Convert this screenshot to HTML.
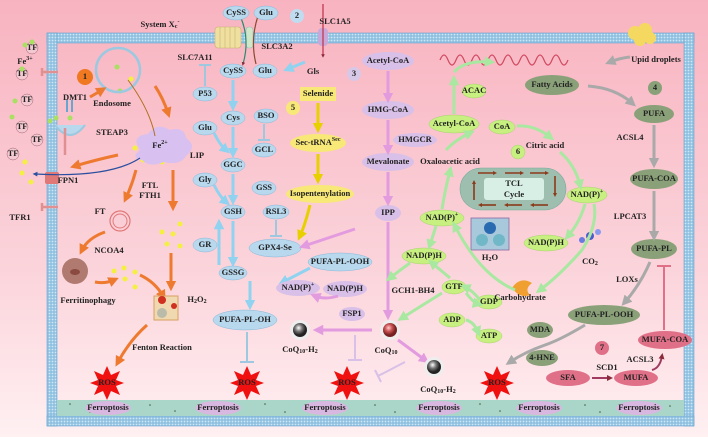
<!DOCTYPE html>
<html><head><meta charset="utf-8"><style>
body{margin:0;background:#fff}
svg{display:block}
text{font-family:"Liberation Serif",serif;font-weight:bold;font-size:8.5px;fill:#222;text-anchor:middle;dominant-baseline:middle}
</style></head><body>
<svg width="708" height="437" viewBox="0 0 708 437" xmlns="http://www.w3.org/2000/svg">
<defs>
<linearGradient id="bg" x1="0" y1="0" x2="0" y2="1"><stop offset="0" stop-color="#f8b3c0"/><stop offset="0.6" stop-color="#fbd3da"/><stop offset="1" stop-color="#fff0f2"/></linearGradient>
<pattern id="mem" width="3" height="3" patternUnits="userSpaceOnUse"><rect width="3" height="3" fill="#8fc0e0"/><circle cx="1.5" cy="1.5" r="0.9" fill="#cfe6f5"/></pattern>
<marker id="ab" viewBox="0 0 10 10" refX="5" refY="5" markerWidth="3.5" markerHeight="3.5" orient="auto"><path d="M0,0L10,5L0,10z" fill="#8fd3f0"/></marker>
<marker id="ay" viewBox="0 0 10 10" refX="5" refY="5" markerWidth="3.5" markerHeight="3.5" orient="auto"><path d="M0,0L10,5L0,10z" fill="#e8d000"/></marker>
<marker id="ap" viewBox="0 0 10 10" refX="5" refY="5" markerWidth="3.5" markerHeight="3.5" orient="auto"><path d="M0,0L10,5L0,10z" fill="#e39be0"/></marker>
<marker id="ag" viewBox="0 0 10 10" refX="5" refY="5" markerWidth="3.5" markerHeight="3.5" orient="auto"><path d="M0,0L10,5L0,10z" fill="#a8e8a0"/></marker>
<marker id="agr" viewBox="0 0 10 10" refX="5" refY="5" markerWidth="3.5" markerHeight="3.5" orient="auto"><path d="M0,0L10,5L0,10z" fill="#a9a9a9"/></marker>
<marker id="ao" viewBox="0 0 10 10" refX="5" refY="5" markerWidth="3.5" markerHeight="3.5" orient="auto"><path d="M0,0L10,5L0,10z" fill="#ee7a30"/></marker>
<marker id="ar" viewBox="0 0 10 10" refX="5" refY="5" markerWidth="3" markerHeight="3" orient="auto"><path d="M0,0L10,5L0,10z" fill="#8a2a3a"/></marker>
<marker id="an" viewBox="0 0 10 10" refX="5" refY="5" markerWidth="4" markerHeight="4" orient="auto"><path d="M0,0L10,5L0,10z" fill="#2a4fa0"/></marker>
<marker id="abr" viewBox="0 0 10 10" refX="5" refY="5" markerWidth="2.5" markerHeight="2.5" orient="auto"><path d="M0,0L10,5L0,10z" fill="#8b3a1a"/></marker>
</defs>
<rect width="708" height="437" fill="url(#bg)"/>
<!-- membrane -->
<rect x="47" y="33" width="647" height="10" fill="url(#mem)" stroke="#6aa5d0" stroke-width="0.6"/>
<rect x="47" y="33" width="10" height="393" fill="url(#mem)" stroke="#6aa5d0" stroke-width="0.6"/>
<rect x="684" y="33" width="10" height="393" fill="url(#mem)" stroke="#6aa5d0" stroke-width="0.6"/>
<rect x="47" y="416" width="647" height="10" fill="url(#mem)" stroke="#6aa5d0" stroke-width="0.6"/>
<rect x="57" y="400" width="627" height="16" fill="#a9d6c8"/>
<g fill="#4a5a3a">
<circle cx="70" cy="404" r="0.8"/><circle cx="90" cy="412" r="0.8"/><circle cx="150" cy="405" r="0.8"/><circle cx="175" cy="411" r="0.8"/><circle cx="265" cy="404" r="0.8"/><circle cx="285" cy="412" r="0.8"/><circle cx="375" cy="405" r="0.8"/><circle cx="395" cy="412" r="0.8"/><circle cx="480" cy="404" r="0.8"/><circle cx="500" cy="411" r="0.8"/><circle cx="585" cy="405" r="0.8"/><circle cx="600" cy="412" r="0.8"/><circle cx="670" cy="406" r="0.8"/>
</g>
<!-- Ferroptosis -->
<g fill="#d8b8e0">
<ellipse cx="108" cy="408" rx="23" ry="7"/><ellipse cx="218" cy="408" rx="23" ry="7"/><ellipse cx="325" cy="408" rx="23" ry="7"/><ellipse cx="439" cy="408" rx="23" ry="7"/><ellipse cx="539" cy="408" rx="23" ry="7"/><ellipse cx="639" cy="408" rx="23" ry="7"/>
</g>
<text x="108" y="408">Ferroptosis</text><text x="218" y="408">Ferroptosis</text><text x="325" y="408">Ferroptosis</text><text x="439" y="408">Ferroptosis</text><text x="539" y="408">Ferroptosis</text><text x="639" y="408">Ferroptosis</text>
<!-- ROS stars -->
<g fill="#f01010">
<polygon transform="translate(107,383)" points="0,-17 4,-8 13,-12 9,-3 17,0 9,3 13,12 4,8 0,17 -4,8 -13,12 -9,3 -17,0 -9,-3 -13,-12 -4,-8"/>
<polygon transform="translate(247,383)" points="0,-17 4,-8 13,-12 9,-3 17,0 9,3 13,12 4,8 0,17 -4,8 -13,12 -9,3 -17,0 -9,-3 -13,-12 -4,-8"/>
<polygon transform="translate(347,383)" points="0,-17 4,-8 13,-12 9,-3 17,0 9,3 13,12 4,8 0,17 -4,8 -13,12 -9,3 -17,0 -9,-3 -13,-12 -4,-8"/>
<polygon transform="translate(497,383)" points="0,-17 4,-8 13,-12 9,-3 17,0 9,3 13,12 4,8 0,17 -4,8 -13,12 -9,3 -17,0 -9,-3 -13,-12 -4,-8"/>
</g>
<text x="107" y="383">ROS</text><text x="247" y="383">ROS</text><text x="347" y="383">ROS</text><text x="497" y="383">ROS</text>

<!-- Xc- transporter -->
<rect x="215" y="27" width="26" height="21" rx="3" fill="#f0e0a0" stroke="#c8b070" stroke-width="0.6"/>
<g stroke="#c8b070" stroke-width="0.6"><line x1="220" y1="27" x2="220" y2="48"/><line x1="225" y1="27" x2="225" y2="48"/><line x1="230" y1="27" x2="230" y2="48"/><line x1="235" y1="27" x2="235" y2="48"/></g>
<rect x="246" y="27" width="7" height="21" rx="3" fill="#cfe6c8" stroke="#9bb" stroke-width="0.6"/>
<rect x="318" y="28" width="10" height="18" rx="4" fill="#c8a8d8"/>
<text x="160" y="25">System X<tspan font-size="6" dy="2">c</tspan><tspan font-size="6" dy="-5">-</tspan></text>
<path d="M241,18 Q250,40 243,64" stroke="#2a8a6a" stroke-width="1.2" fill="none" marker-end="url(#ar)"/>
<path d="M256,64 Q250,40 258,16" stroke="#8a4a30" stroke-width="1.2" fill="none" marker-end="url(#ar)"/>
<line x1="323" y1="4" x2="323" y2="56" stroke="#c03048" stroke-width="1.2" marker-end="url(#ar)"/>
<text x="335" y="22">SLC1A5</text>
<text x="277" y="47">SLC3A2</text>
<text x="195" y="58">SLC7A11</text>
<circle cx="297" cy="16" r="7" fill="#c0dcf0"/><text x="297" y="16" font-size="10">2</text>
<circle cx="354" cy="74" r="7" fill="#d8c8e8"/><text x="354" y="74" font-size="10">3</text>
<!-- blue ellipses -->
<g fill="#b8d8ee" stroke="#8ab8d8" stroke-width="0.5">
<ellipse cx="236" cy="13" rx="13" ry="7"/><ellipse cx="266" cy="13" rx="12" ry="7"/>
<ellipse cx="233" cy="71" rx="13" ry="7"/><ellipse cx="265" cy="71" rx="12" ry="7"/>
<ellipse cx="205" cy="94" rx="12" ry="7"/>
<ellipse cx="233" cy="118" rx="12" ry="7"/><ellipse cx="266" cy="116" rx="12" ry="7"/>
<ellipse cx="205" cy="128" rx="12" ry="7"/><ellipse cx="264" cy="150" rx="12" ry="7"/>
<ellipse cx="233" cy="165" rx="12" ry="7"/><ellipse cx="205" cy="180" rx="12" ry="7"/>
<ellipse cx="264" cy="188" rx="12" ry="7"/><ellipse cx="233" cy="212" rx="12" ry="7"/>
<ellipse cx="276" cy="212" rx="13" ry="7"/><ellipse cx="205" cy="245" rx="12" ry="7"/>
<ellipse cx="275" cy="248" rx="26" ry="9"/><ellipse cx="233" cy="273" rx="14" ry="7"/>
<ellipse cx="340" cy="262" rx="32" ry="9"/><ellipse cx="245" cy="320" rx="32" ry="10"/>
</g>
<text x="236" y="13">CySS</text><text x="266" y="13">Glu</text><text x="233" y="71">CySS</text><text x="265" y="71">Glu</text>
<text x="205" y="94">P53</text><text x="233" y="118">Cys</text><text x="266" y="116">BSO</text><text x="205" y="128">Glu</text>
<text x="264" y="150">GCL</text><text x="233" y="165">GGC</text><text x="205" y="180">Gly</text><text x="264" y="188">GSS</text>
<text x="233" y="212">GSH</text><text x="276" y="212">RSL3</text><text x="205" y="245">GR</text><text x="275" y="248">GPX4-Se</text>
<text x="233" y="273">GSSG</text><text x="340" y="262">PUFA-PL-OOH</text><text x="245" y="320">PUFA-PL-OH</text>
<text x="313" y="72">Gls</text>
<!-- blue arrows -->
<g stroke="#8fd3f0" stroke-width="3" fill="none" marker-end="url(#ab)">
<line x1="305" y1="62" x2="288" y2="69"/>
<line x1="233" y1="80" x2="233" y2="106"/><line x1="233" y1="127" x2="233" y2="153"/>
<path d="M214,133 Q220,145 226,150"/><line x1="233" y1="174" x2="233" y2="200"/>
<path d="M214,185 Q220,197 226,202"/><line x1="233" y1="221" x2="233" y2="262"/>
<line x1="219" y1="265" x2="219" y2="224"/><line x1="310" y1="268" x2="283" y2="282"/>
<line x1="250" y1="281" x2="250" y2="305"/>
</g>
<g stroke="#9ec8e0" stroke-width="2" fill="none">
<line x1="205" y1="86" x2="205" y2="65"/><line x1="199" y1="65" x2="211" y2="65"/>
<line x1="264" y1="124" x2="264" y2="140"/><line x1="258" y1="140" x2="270" y2="140"/>
<line x1="276" y1="220" x2="276" y2="236"/><line x1="270" y1="236" x2="282" y2="236"/>
<line x1="247" y1="332" x2="247" y2="362"/><line x1="240" y1="362" x2="254" y2="362"/>
</g>
<!-- selenium -->
<rect x="300" y="87" width="36" height="14" fill="#f8e878"/>
<text x="318" y="94">Selenide</text>
<circle cx="293" cy="108" r="7" fill="#f8e878"/><text x="293" y="108" font-size="10">5</text>
<ellipse cx="318" cy="143" rx="28" ry="9" fill="#f8e878"/><text x="318" y="143">Sec-tRNA<tspan font-size="6" dy="-3">Sec</tspan></text>
<ellipse cx="320" cy="194" rx="34" ry="9" fill="#f8e878"/><text x="320" y="194">Isopentenylation</text>
<g stroke="#e8d000" stroke-width="3" fill="none" marker-end="url(#ay)">
<line x1="318" y1="103" x2="318" y2="128"/><line x1="318" y1="154" x2="318" y2="179"/><path d="M310,205 Q305,225 300,236"/>
</g>
<!-- mevalonate -->
<g fill="#d8c0e8"><ellipse cx="388" cy="61" rx="26" ry="9"/><ellipse cx="388" cy="110" rx="26" ry="9"/><ellipse cx="415" cy="140" rx="22" ry="7"/><ellipse cx="388" cy="162" rx="26" ry="9"/><ellipse cx="388" cy="213" rx="13" ry="8"/>
<ellipse cx="298" cy="288" rx="22" ry="8"/><ellipse cx="345" cy="289" rx="22" ry="8"/><ellipse cx="352" cy="314" rx="13" ry="7"/></g>
<text x="388" y="61">Acetyl-CoA</text><text x="388" y="110">HMG-CoA</text><text x="415" y="140">HMGCR</text><text x="388" y="162">Mevalonate</text><text x="388" y="213">IPP</text>
<text x="298" y="288">NAD(P)<tspan font-size="6" dy="-3">+</tspan></text><text x="345" y="289">NAD(P)H</text><text x="352" y="314">FSP1</text>
<g stroke="#e39be0" stroke-width="3" fill="none" marker-end="url(#ap)">
<line x1="388" y1="71" x2="388" y2="98"/><line x1="388" y1="120" x2="388" y2="150"/><line x1="388" y1="172" x2="388" y2="201"/>
<line x1="388" y1="222" x2="388" y2="315"/><line x1="355" y1="229" x2="304" y2="246"/>
<path d="M338,296 Q325,300 315,296"/><line x1="372" y1="330" x2="318" y2="330"/><line x1="398" y1="340" x2="425" y2="360"/>
</g>
<g stroke="#d8c0e8" stroke-width="2" fill="none"><line x1="355" y1="335" x2="355" y2="360"/><line x1="348" y1="360" x2="362" y2="360"/><line x1="405" y1="362" x2="378" y2="376"/><line x1="375" y1="370" x2="381" y2="382"/></g>
<!-- CoQ spheres -->
<defs><radialGradient id="gs" cx="0.4" cy="0.35"><stop offset="0" stop-color="#fff"/><stop offset="0.5" stop-color="#777"/><stop offset="1" stop-color="#222"/></radialGradient>
<radialGradient id="rs" cx="0.4" cy="0.35"><stop offset="0" stop-color="#fcc"/><stop offset="0.5" stop-color="#c55"/><stop offset="1" stop-color="#722"/></radialGradient></defs>
<circle cx="300" cy="330" r="10" fill="#eee"/><circle cx="300" cy="330" r="7" fill="url(#gs)"/><text x="300" y="350">CoQ<tspan font-size="6" dy="2">10</tspan><tspan dy="-2">-H</tspan><tspan font-size="6" dy="2">2</tspan></text>
<circle cx="390" cy="330" r="10" fill="#eee"/><circle cx="390" cy="330" r="7" fill="url(#rs)"/><text x="386" y="351">CoQ<tspan font-size="6" dy="2">10</tspan></text>
<circle cx="434" cy="367" r="10" fill="#eee"/><circle cx="434" cy="367" r="7" fill="url(#gs)"/><text x="438" y="390">CoQ<tspan font-size="6" dy="2">10</tspan><tspan dy="-2">-H</tspan><tspan font-size="6" dy="2">2</tspan></text>
<!-- TCA -->
<path d="M440,60 q4,-10 8,0 q4,10 8,0 q4,-10 8,0 q4,10 8,0 q4,-10 8,0 q4,10 8,0 q4,-10 8,0 q4,10 8,0 q4,-10 8,0 q4,10 8,0 q4,-10 8,0 q4,10 8,0 q4,-10 8,0 q4,10 8,0 q4,-10 8,0 q4,10 8,0" stroke="#d04a60" stroke-width="1.2" fill="none"/>
<g fill="#f5d860"><circle cx="635" cy="33" r="7"/><circle cx="645" cy="30" r="7"/><circle cx="650" cy="38" r="6"/><circle cx="640" cy="40" r="6"/></g>
<text x="656" y="60">Upid droplets</text>
<g fill="#c8f080" stroke="#9c6" stroke-width="0.4">
<ellipse cx="474" cy="91" rx="12" ry="7"/><ellipse cx="454" cy="124" rx="25" ry="9"/><ellipse cx="502" cy="127" rx="13" ry="7"/>
<circle cx="518" cy="152" r="7"/><ellipse cx="587" cy="195" rx="20" ry="8"/><ellipse cx="442" cy="218" rx="22" ry="8"/>
<ellipse cx="546" cy="243" rx="22" ry="8"/><ellipse cx="424" cy="256" rx="22" ry="8"/><ellipse cx="454" cy="287" rx="12" ry="7"/>
<ellipse cx="489" cy="302" rx="13" ry="7"/><ellipse cx="452" cy="320" rx="13" ry="7"/><ellipse cx="489" cy="336" rx="13" ry="7"/>
</g>
<text x="474" y="91">ACAC</text><text x="454" y="124">Acetyl-CoA</text><text x="502" y="127">CoA</text><text x="518" y="152" font-size="10">6</text>
<text x="587" y="195">NAD(P)<tspan font-size="6" dy="-3">+</tspan></text><text x="442" y="218">NAD(P)<tspan font-size="6" dy="-3">+</tspan></text>
<text x="546" y="243">NAD(P)H</text><text x="424" y="256">NAD(P)H</text><text x="454" y="287">GTP</text><text x="489" y="302">GDP</text><text x="452" y="320">ADP</text><text x="489" y="336">ATP</text>
<text x="450" y="162">Oxaloacetic acid</text><text x="545" y="146">Citric acid</text><text x="413" y="291">GCH1-BH4</text>
<text x="520" y="298">Carbohydrate</text><text x="490" y="258">H<tspan font-size="6" dy="2">2</tspan><tspan dy="-2">O</tspan></text>
<text x="590" y="262">CO<tspan font-size="6" dy="2">2</tspan></text>
<rect x="460" y="168" width="106" height="42" rx="21" fill="#9ebfb0" stroke="#7a9" stroke-width="0.6"/>
<rect x="484" y="178" width="60" height="22" rx="3" fill="#d8efe6"/>
<text x="514" y="184">TCL</text><text x="514" y="195">Cycle</text>
<g stroke="#8b3a1a" stroke-width="1.6" marker-end="url(#abr)">
<line x1="478" y1="173" x2="495" y2="173"/><line x1="505" y1="173" x2="522" y2="173"/><line x1="530" y1="173" x2="547" y2="173"/>
<line x1="555" y1="176" x2="555" y2="195"/><line x1="548" y1="205" x2="532" y2="205"/><line x1="522" y1="205" x2="506" y2="205"/><line x1="496" y1="205" x2="480" y2="205"/><line x1="474" y1="200" x2="474" y2="182"/>
</g>
<rect x="471" y="218" width="38" height="32" fill="#a8c8dc" stroke="#8a6aa0" stroke-width="0.8"/>
<circle cx="490" cy="228" r="6" fill="#2a6ab0"/><circle cx="482" cy="240" r="6" fill="#70b8c8"/><circle cx="499" cy="240" r="6" fill="#70b8c8"/>
<circle cx="582" cy="240" r="3" fill="#6a7ae0"/><circle cx="590" cy="236" r="4" fill="#4a5ad0"/><circle cx="598" cy="232" r="3" fill="#8a9af0"/>
<path d="M512,288 q8,-12 20,-5 q-8,6 -2,12 q-10,4 -18,-7z" fill="#f0a030"/>
<g stroke="#a8e8a0" stroke-width="3" fill="none" marker-end="url(#ag)">
<line x1="454" y1="114" x2="454" y2="80"/><path d="M454,72 Q465,60 490,62"/><path d="M446,150 Q455,140 470,133"/>
<path d="M517,126 Q535,125 550,137"/><path d="M560,152 Q575,165 580,185"/><path d="M585,204 Q580,222 568,236"/>
<path d="M594,204 Q598,225 582,250 Q560,275 540,290"/><path d="M442,209 Q445,190 450,171"/>
<path d="M436,226 L430,245"/><path d="M450,278 L432,263"/><path d="M515,290 Q480,275 455,226"/>
<path d="M480,300 Q472,290 465,287"/><path d="M466,293 Q474,303 478,304"/><path d="M466,320 Q474,322 478,332"/>
<path d="M410,263 Q400,270 390,278"/><path d="M442,293 L402,318"/>
</g>
<!-- lipid right -->
<g fill="#8aa078"><ellipse cx="552" cy="85" rx="27" ry="10"/><circle cx="655" cy="88" r="7"/><ellipse cx="654" cy="114" rx="20" ry="9"/><ellipse cx="654" cy="179" rx="24" ry="10"/><ellipse cx="654" cy="249" rx="23" ry="10"/><ellipse cx="604" cy="315" rx="36" ry="10"/><ellipse cx="540" cy="330" rx="13" ry="8"/><ellipse cx="542" cy="358" rx="16" ry="8"/></g>
<text x="552" y="85">Fatty Acids</text><text x="655" y="88" font-size="10">4</text><text x="654" y="114">PUFA</text><text x="654" y="179">PUFA-COA</text><text x="654" y="249">PUFA-PL</text><text x="604" y="315">PUFA-PL-OOH</text><text x="540" y="330">MDA</text><text x="542" y="358">4-HNE</text>
<text x="630" y="138">ACSL4</text><text x="630" y="217">LPCAT3</text><text x="627" y="280">LOXs</text>
<g stroke="#a9a9a9" stroke-width="3" fill="none" marker-end="url(#agr)">
<path d="M630,57 Q620,58 610,62"/><path d="M588,86 Q615,88 632,103"/><line x1="654" y1="125" x2="654" y2="163"/><line x1="654" y1="191" x2="654" y2="236"/>
<path d="M650,262 Q640,285 625,302"/><path d="M585,325 Q560,340 545,345 Q525,352 510,362"/>
</g>
<g fill="#e07088"><ellipse cx="665" cy="340" rx="27" ry="9"/><circle cx="602" cy="348" r="7"/><ellipse cx="568" cy="378" rx="22" ry="8"/><ellipse cx="636" cy="378" rx="22" ry="8"/></g>
<text x="665" y="340">MUFA-COA</text><text x="602" y="348" font-size="10">7</text><text x="568" y="378">SFA</text><text x="636" y="378">MUFA</text><text x="607" y="368">SCD1</text><text x="640" y="360">ACSL3</text>
<line x1="592" y1="378" x2="610" y2="378" stroke="#a03a60" stroke-width="2" marker-end="url(#ar)"/>
<path d="M652,370 Q660,368 662,356" stroke="#a03a60" stroke-width="2" fill="none" marker-end="url(#ar)"/>
<g stroke="#e07088" stroke-width="2"><line x1="664" y1="330" x2="664" y2="266"/><line x1="657" y1="266" x2="671" y2="266"/></g>
<!-- iron left -->
<circle cx="85" cy="77" r="8" fill="#f07820"/><text x="85" y="77" font-size="10">1</text>
<text x="25" y="62">Fe<tspan font-size="6" dy="-3">3+</tspan></text>
<g fill="#f4c8d0" stroke="#a06070" stroke-width="0.5">
<circle cx="32" cy="48" r="6"/><circle cx="22" cy="74" r="6"/><circle cx="27" cy="100" r="6"/><circle cx="22" cy="127" r="6"/><circle cx="37" cy="140" r="6"/><circle cx="13" cy="154" r="6"/>
</g>
<g font-size="7"><text x="32" y="48" font-size="7">TF</text><text x="22" y="74" font-size="7">TF</text><text x="27" y="100" font-size="7">TF</text><text x="22" y="127" font-size="7">TF</text><text x="37" y="140" font-size="7">TF</text><text x="13" y="154" font-size="7">TF</text></g>
<g fill="#a8e060"><circle cx="25" cy="45" r="2.5"/><circle cx="32" cy="42" r="2.5"/><circle cx="22" cy="69" r="2.5"/><circle cx="15" cy="101" r="2.5"/><circle cx="12" cy="117" r="2.5"/><circle cx="50" cy="121" r="2.5"/><circle cx="56" cy="118" r="2.5"/><circle cx="70" cy="118" r="2.5"/><circle cx="117" cy="67" r="2.5"/><circle cx="120" cy="91" r="2.5"/></g>
<g fill="#f4f040"><circle cx="25" cy="162" r="2.5"/><circle cx="22" cy="173" r="2.5"/><circle cx="31" cy="182" r="2.5"/><circle cx="131" cy="79" r="2.5"/>
<circle cx="145" cy="140" r="2.5"/><circle cx="168" cy="140" r="2.5"/><circle cx="135" cy="148" r="2.5"/><circle cx="143" cy="160" r="2.5"/><circle cx="162" cy="162" r="2.5"/>
<circle cx="162" cy="232" r="2.5"/><circle cx="173" cy="234" r="2.5"/><circle cx="180" cy="224" r="2.5"/><circle cx="167" cy="244" r="2.5"/><circle cx="180" cy="246" r="2.5"/>
<circle cx="114" cy="271" r="2.5"/><circle cx="124" cy="268" r="2.5"/><circle cx="135" cy="272" r="2.5"/><circle cx="125" cy="279" r="2.5"/><circle cx="135" cy="287" r="2.5"/></g>
<circle cx="118" cy="70" r="22" fill="none" stroke="#9cc8e0" stroke-width="2.5"/>
<text x="112" y="104">Endosome</text><text x="75" y="98">DMT1</text><text x="112" y="133">STEAP3</text>
<path d="M55,125 Q70,145 85,125" fill="#b8d8ee" stroke="#9cc8e0" stroke-width="2"/>
<line x1="67" y1="100" x2="67" y2="112" stroke="#6aa5d0" stroke-width="2"/><line x1="72" y1="100" x2="72" y2="112" stroke="#6aa5d0" stroke-width="2"/>
<g stroke="#e09090" stroke-width="2.5" fill="none"><path d="M42,72 L58,72 M42,68 L42,76"/><path d="M42,207 L58,207 M42,203 L42,211"/><path d="M65,128 L65,155"/></g>
<rect x="45" y="172" width="14" height="12" rx="2" fill="#e07878"/>
<text x="68" y="181">FPN1</text><text x="20" y="218">TFR1</text>
<path d="M140,150 q-10,-14 8,-16 q8,-12 22,-4 q14,-4 16,8 q12,8 0,18 q-6,10 -22,6 q-14,6 -22,-2 q-12,-2 -2,-10z" fill="#d8c0f0"/>
<text x="160" y="146">Fe<tspan font-size="6" dy="-3">2+</tspan></text><text x="197" y="156">LIP</text>
<path d="M140,158 Q110,178 35,174" stroke="#2a4fa0" stroke-width="1.2" fill="none" marker-end="url(#an)"/>
<path d="M128,80 Q150,110 155,136" stroke="#b07020" stroke-width="1" fill="none"/>
<g stroke="#ee7a30" stroke-width="3" fill="none" marker-end="url(#ao)">
<path d="M90,97 Q97,93 102,90"/><path d="M155,86 Q163,98 168,113"/><path d="M118,155 Q95,160 75,166"/>
<path d="M136,170 Q132,185 126,198"/><line x1="173" y1="170" x2="173" y2="206"/><path d="M105,232 Q88,238 82,250"/>
<path d="M95,282 Q105,284 114,280"/><path d="M140,275 Q155,282 163,296"/><line x1="171" y1="253" x2="171" y2="286"/>
<path d="M147,325 Q130,340 118,362"/>
</g>
<text x="150" y="186">FTL</text><text x="150" y="196">FTH1</text><text x="100" y="212">FT</text>
<circle cx="120" cy="221" r="10" fill="none" stroke="#e07878" stroke-width="1.2"/><circle cx="120" cy="221" r="7" fill="none" stroke="#e07878" stroke-width="1"/>
<text x="109" y="251">NCOA4</text>
<circle cx="75" cy="271" r="13" fill="#b07a70"/><ellipse cx="75" cy="272" rx="5" ry="3" fill="#8a4a40"/>
<text x="88" y="301">Ferritinophagy</text>
<rect x="154" y="296" width="24" height="24" fill="#f0d8b0" stroke="#d8a060"/>
<circle cx="162" cy="300" r="4" fill="#d03020"/><circle cx="174" cy="306" r="3" fill="#d03020"/><circle cx="162" cy="313" r="5" fill="#bba"/>
<text x="197" y="300">H<tspan font-size="6" dy="2">2</tspan><tspan dy="-2">O</tspan><tspan font-size="6" dy="2">2</tspan></text>
<text x="162" y="348">Fenton Reaction</text>
</svg>
</body></html>
